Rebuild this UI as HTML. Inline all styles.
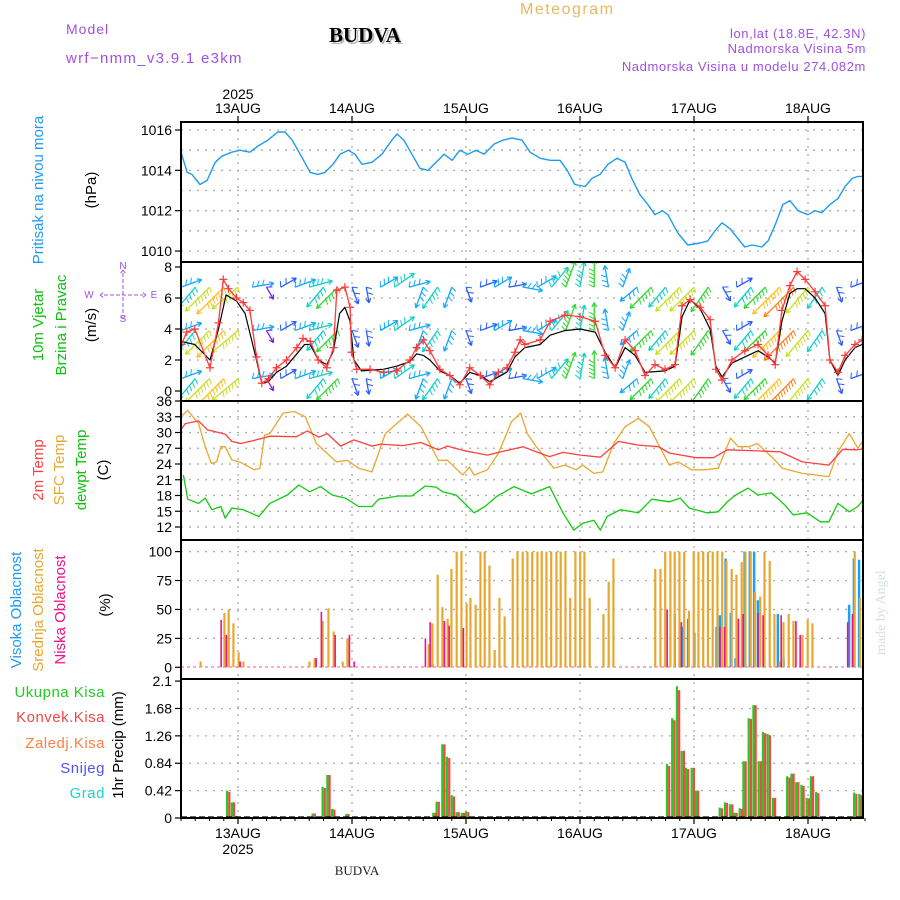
<!DOCTYPE html>
<html><head><meta charset="utf-8"><style>
html,body{margin:0;padding:0;background:#fff;}
svg{display:block;font-family:"Liberation Sans",sans-serif;}
</style></head><body>
<svg id="chart" width="900" height="900" viewBox="0 0 900 900" xmlns="http://www.w3.org/2000/svg">
<defs>
<clipPath id="cp1"><rect x="181" y="122" width="682" height="140"/></clipPath>
<clipPath id="cp2"><rect x="181" y="262" width="682" height="139"/></clipPath>
<clipPath id="cp3"><rect x="181" y="401" width="682" height="139"/></clipPath>
<clipPath id="cp4"><rect x="181" y="540" width="682" height="139"/></clipPath>
<clipPath id="cp5"><rect x="181" y="679" width="682" height="139"/></clipPath>
</defs>
<text x="520" y="14" font-size="16" fill="#e8b860" letter-spacing="1.5">Meteogram</text>
<text x="66" y="34" font-size="14" fill="#a050e0" letter-spacing="1">Model</text>
<text x="66" y="63" font-size="15" fill="#a050e0" letter-spacing="1.3">wrf−nmm_v3.9.1 e3km</text>
<text x="331" y="44" font-size="21" font-weight="bold" fill="#bbb" font-family="Liberation Serif,serif">BUDVA</text>
<text x="329" y="42" font-size="21" font-weight="bold" fill="#000" font-family="Liberation Serif,serif">BUDVA</text>
<g font-size="13" fill="#a050e0" text-anchor="end" letter-spacing="0.6">
<text x="866" y="38">lon,lat (18.8E, 42.3N)</text>
<text x="866" y="53">Nadmorska Visina 5m</text>
<text x="866" y="71">Nadmorska Visina u modelu 274.082m</text>
</g>
<g id="grid"></g>
<g id="series"></g>
<g id="frames"></g>
<g id="labels"></g>
<text x="357" y="875" font-size="13" font-family="Liberation Serif,serif" text-anchor="middle" fill="#222">BUDVA</text>
<text transform="translate(885,655) rotate(-90)" font-size="14" fill="#d8e0d8" font-family="Liberation Serif,serif">made by Angel</text>
</svg>
<script>
// ---------- DATA ----------
const dayLabels = ["13AUG","14AUG","15AUG","16AUG","17AUG","18AUG"];
const dayHours = [12,36,60,84,108,132];
const pressTicks = [1010,1012,1014,1016];
const windTicks = [0,2,4,6,8];
const tempTicks = [12,15,18,21,24,27,30,33,36];
const cloudTicks = [0,25,50,75,100];
const precipTicks = [0,0.42,0.84,1.26,1.68,2.1];

const pressHours = [0,1.3,2.3,4,5.5,7.2,8.6,10.7,12.4,14.5,16.2,18.3,20.4,21.9,23.4,25.1,27.2,28.8,30.3,32,33.5,35.2,36.6,38.1,40.2,42.3,44.4,45.5,46.9,48.6,50.3,52,53.7,55.4,57.1,58.7,60.4,62.1,63.8,65.9,67.8,69.7,71.8,73.5,75.6,77.7,79.8,81.3,82.9,85.1,86.5,88.2,89.9,91.8,93.5,94.9,96.6,98.3,99.8,101.3,102.5,104.6,106.7,109.3,110.9,112.4,113.9,115.6,117.3,118.7,120.2,122.3,123.6,125.1,126.7,128.2,129.9,132,133.5,134.9,136.6,138.3,139.8,141.3,142.5,143.4];
const pressVals = [1014.9,1013.9,1013.8,1013.3,1013.5,1014.4,1014.7,1014.9,1015.0,1014.9,1015.2,1015.5,1015.9,1015.9,1015.5,1014.8,1013.9,1013.8,1013.9,1014.3,1014.8,1015.0,1014.8,1014.3,1014.4,1014.8,1015.5,1015.8,1015.5,1014.8,1014.1,1014.0,1014.4,1014.8,1014.5,1015.0,1014.8,1015.0,1014.8,1015.3,1015.5,1015.6,1015.5,1014.9,1014.6,1014.5,1014.5,1014.0,1013.3,1013.2,1013.6,1013.8,1014.3,1014.6,1014.4,1013.6,1012.8,1012.3,1011.8,1012.0,1011.8,1010.9,1010.3,1010.4,1010.5,1011.0,1011.4,1011.1,1010.6,1010.2,1010.3,1010.2,1010.5,1011.3,1012.3,1012.5,1012.0,1011.8,1012.0,1011.9,1012.3,1012.6,1013.2,1013.6,1013.7,1013.7];

const gustHours = [0.1,1.2,2.9,6.1,7.9,8.9,10,11.7,13.1,14.5,15.9,17,18.4,20.1,22.2,24.4,25.7,27.2,28.9,30.7,32.1,32.8,34.5,35.6,35.9,37,39.8,42.6,45.4,48.2,49.6,51,52.4,54.5,56.6,58.7,60.8,63,65,66.8,68.6,70.3,71.4,72.4,75.6,77.7,80.8,84,87.2,89.3,91.4,93.5,95.6,97.7,99.8,101.9,104,105.5,107.2,109.3,111.4,112.6,113.9,116,118.7,121.5,123.6,125.1,126.5,128.2,129.7,131.4,133.5,135.6,136.6,138.3,139.8,141.9,143.4];
const gustVals = [3.0,3.8,4.0,1.5,4.4,7.2,6.6,6.0,5.7,5.2,2.2,0.5,0.8,1.5,2.0,2.8,3.4,3.2,2.0,1.5,2.8,6.5,6.7,5.4,2.5,1.4,1.4,1.2,1.3,2.0,2.8,3.3,2.6,1.4,1.0,0.4,1.5,1.0,0.4,1.2,1.5,2.5,3.3,3.0,3.3,4.5,4.9,4.8,4.5,2.3,1.5,3.3,2.6,1.0,1.7,1.4,1.7,5.5,5.9,5.4,4.6,1.4,0.7,2.0,2.6,3.0,2.3,1.7,5.2,6.8,7.7,7.2,6.4,5.5,2.0,1.2,2.3,3.0,3.3];
const meanHours = [0,2.9,6.1,7.9,9.5,11.7,13.5,15.9,17,18.4,20.1,22.2,24.4,26,27.2,28.9,30.7,32.1,33.4,34.5,35.6,36.4,38,42.6,45.4,48.2,49.6,51,52.4,54.5,56.6,58.7,60.8,63,65,68.6,70.3,72.4,75.6,77.7,80.8,84,87.2,89.3,91.4,93.5,95.6,97.7,101.9,104,105.5,107.2,109.3,111.4,112.6,113.9,116,118.7,121.5,123.6,125.1,126.5,128.2,129.7,131.4,133.5,135.6,136.6,138.3,139.8,141.9,143.4];
const meanVals = [3.2,3.0,2.0,4.0,6.2,5.8,5.0,2.0,0.5,0.6,1.2,1.6,2.4,3.0,3.0,2.0,1.7,2.6,5.0,5.4,4.5,2.0,1.3,1.4,1.6,1.9,2.4,2.3,2.0,1.3,1.0,0.5,1.2,1.0,0.6,1.2,2.2,2.8,3.0,3.6,3.9,4.0,3.8,2.5,1.5,2.8,2.3,1.2,1.3,1.6,4.8,5.9,5.3,4.0,1.6,0.9,1.8,2.2,2.6,2.2,1.8,4.5,6.3,6.6,6.6,6.0,5.0,2.0,1.0,2.0,2.8,3.0];

const windHours = [0,3,6,9,12,15,18,21,24,27,30,33,36,39,42,45,48,51,54,57,60,63,66,69,72,75,78,81,84,87,90,93,96,99,102,105,108,111,114,117,120,123,126,129,132,135,138,141,144];
const windSpeed = [3,4,6,7,6,3,1,2,3,3.5,4,5,2,1.5,2.5,3.5,3,3,4,3,1.5,2,2.5,2,2.5,3,4,4.5,4,4.5,3,2.5,3,5,4,6,6,5,1.5,2,4,5,7,8,6,4,1.5,2,3];
const windDir = [70,220,225,225,230,80,150,60,70,75,220,225,160,170,60,55,75,200,215,200,160,70,60,80,100,60,40,20,10,0,350,20,230,225,220,225,225,215,150,60,220,225,225,225,220,215,160,70,75];
const windRows = [6.7,3.9,0.8];

const t2Hours = [0,0.9,3.7,5.6,9.3,10.7,12.6,15,18.7,24.3,26.6,29,30.8,33.6,36.4,40.2,42.1,46.7,50.5,54.2,56.1,59.8,64.5,67.3,72,74.8,77.6,80.4,84.1,88.3,92.1,96.3,100.5,102.8,108.4,112.1,115,121.5,126.2,130.8,136.4,139.3,142.1,144.9];
const t2Vals = [30.6,31.7,32.2,30.5,29.7,28.3,27.9,28.4,29.3,29.2,30.3,29.1,29.8,27.4,28.6,27.4,27.8,27.5,28.1,26.7,27.4,26.5,25.7,26.3,27.3,26.3,25.4,26.2,25.7,25.3,28.3,27.6,27.3,26.1,25.2,25.2,26.7,26.5,26.3,24.4,23.8,26.8,26.7,27.0];
const sfcHours = [0,1.4,3.7,5.1,6.4,7.5,8.4,9.3,10.7,12.6,15.4,16.6,17.6,18.7,21.5,23.8,26.2,28.5,30.8,32.7,35,37.4,40.2,43,47.7,50.5,54.2,56.1,59.3,60.7,61.7,64.5,66.8,69.6,71.5,72.9,74.8,78.5,80.8,83.2,84.6,86.9,88.8,91.1,93.5,96.3,98.6,102.8,104.7,107.5,110.3,113.1,115.7,117.3,119.6,121.3,124.3,126.6,130.8,133.6,136.4,138.3,140.7,142.5,143.5,144.9];
const sfcVals = [33.0,34.2,31.7,27.3,24.1,24.4,27.3,27.3,24.8,24.3,22.9,23.2,29.5,29.8,33.7,34.0,33.0,27.9,26.0,24.4,24.7,23.2,22.5,29.8,33.5,31.1,24.7,24.7,21.9,23.4,21.9,22.9,26.0,32.1,33.7,29.8,27.3,23.2,23.8,22.9,23.8,22.2,22.5,27.9,31.1,32.7,31.1,23.8,24.4,22.9,22.9,23.2,28.9,27.3,27.3,27.9,25.4,23.2,22.2,21.9,21.6,26.3,29.8,27.0,28.3,27.0];
const dewHours = [0.5,1.4,3.7,5.1,6.5,8.4,9.3,10.7,13.1,16.4,18.7,22.4,24.8,27.1,29.4,31.8,34.6,37.4,40.2,41.6,45.8,48.6,51.4,53.7,55.1,57.9,61.7,64,66.4,70.1,73.8,77.6,80.4,82.7,84.6,86.9,88.3,89.7,92.5,96.3,99.1,102.8,105.1,107,110.7,113.1,115,116.8,119.4,121.5,124.3,127.1,128.9,131.8,134.6,136.4,138.3,140.7,142.5,144.9];
const dewVals = [21.9,17.3,16.5,17.5,15.3,15.9,13.7,15.6,15.3,14.0,16.5,18.1,20.0,18.7,19.7,18.1,17.5,15.9,15.9,17.3,17.9,17.9,19.8,19.6,18.7,18.1,14.7,15.9,17.8,19.7,18.3,19.7,14.7,11.4,12.7,13.3,11.4,14.0,15.3,14.7,17.3,16.8,17.5,15.6,14.7,14.9,16.8,18.1,19.4,18.1,18.5,16.2,14.3,14.7,13.0,13.0,16.5,14.9,15.9,18.7];

const midHours = [3.8,8.8,9.7,10.7,11.8,12.8,26.7,27.8,29.5,30.7,31.8,33.7,34.7,51.8,52.6,53.7,54.7,55.8,56.6,57.7,58.7,59.8,60.6,61.7,62.7,63.6,64.6,65.7,66.7,67.8,69.5,70.5,71.6,72.6,73.6,74.7,75.6,76.6,77.6,78.7,79.6,80.6,81.6,82.7,83.7,84.6,85.7,88.6,89.7,90.7,99.5,100.6,101.6,102.7,103.6,104.6,105.6,106.6,107.6,108.6,109.6,110.6,111.6,112.6,113.6,114.5,115.6,116.6,117.7,118.5,119.6,120.5,121.6,122.5,123.6,124.6,125.7,126.5,127.6,128.6,130.5,131.6,132.6,141.5,142.6,143.5];
const midVals = [5,47,50,38,13,5,5,8,40,51,31,5,25,20,38,80,52,42,85,100,100,55,60,54,100,100,88,15,60,44,94,100,100,100,100,100,100,100,100,100,100,100,60,100,100,100,60,46,74,94,85,85,100,100,100,100,100,49,100,100,100,100,100,100,100,92,85,80,91,100,100,65,61,100,92,46,5,39,46,40,28,41,38,100,60,60];
const highHours = [52.8,103.8,105.3,106.6,107.9,112.6,113.3,114.5,115.6,116.6,118.5,119.6,120.5,121.3,125.5,126.7,140.5,141.5,142.6,143.5];
const highVals = [3,46,35,42,30,35,45,94,47,8,100,100,100,58,46,7,54,94,93,46];
const lowHours = [8.6,9.7,12.6,28.6,29.7,32.6,35.6,36.6,51.6,52.6,55.6,56.6,59.6,102.5,105.5,113.6,114.6,117.5,118.5,121.6,122.7,126.5,129.6,130.5,140.5,141.5];
const lowVals = [41,28,5,8,48,28,28,5,25,39,40,36,34,50,39,35,35,42,46,47,45,45,40,28,39,46];

const rainHours = [9.9,10.9,11.9,27.9,30,31,32,35,53.3,54,55.2,56.2,57.2,58.2,59.3,60.2,102.5,103.6,104.6,105.6,106.5,107.7,108.6,109.6,113.6,114.7,115.8,116.7,117.8,118.6,119.7,120.7,121.8,122.7,123.7,124.8,127.8,128.7,129.7,130.8,131.9,132.8,133.9,141.9,143,143.9];
const rainTotal = [0.42,0.24,0.03,0.07,0.48,0.66,0.14,0.06,0.08,0.25,1.13,0.94,0.35,0.09,0.08,0.10,0.83,1.53,2.02,1.03,0.77,0.77,0.42,0.02,0.16,0.24,0.21,0.08,0.15,0.87,1.53,1.73,0.87,1.32,1.29,0.31,0.64,0.68,0.55,0.51,0.31,0.64,0.40,0.39,0.37,0.06];
const rainConv = [0.40,0.24,0.02,0.07,0.46,0.66,0.13,0.06,0.08,0.25,1.13,0.92,0.33,0.09,0.08,0.09,0.80,1.50,1.96,1.03,0.75,0.77,0.42,0.02,0.15,0.23,0.21,0.08,0.14,0.87,1.52,1.73,0.87,1.30,1.27,0.31,0.62,0.68,0.55,0.49,0.30,0.64,0.38,0.37,0.35,0.57];

// ---------- SCALES ----------
const X0 = 181, X1 = 863;
const xh = h => X0 + 4.75 * h;
const yP = p => 130 + (1016 - p) * 20.17;
const yW = v => 391 - v * 15.5;
const yT = t => 401 + (36 - t) * 5.25;
const yC = c => 667.3 - c * 1.157;
const yR = r => 818 - r * 65.2;
const panels = [[122,262],[262,401],[401,540],[540,679],[679,818]];

const NS = "http://www.w3.org/2000/svg";
function mk(tag, attrs, parent){
  const e = document.createElementNS(NS, tag);
  for (const k in attrs) e.setAttribute(k, attrs[k]);
  parent.appendChild(e);
  return e;
}
const grid = document.getElementById('grid');
const series = document.getElementById('series');
const frames = document.getElementById('frames');
const labels = document.getElementById('labels');

// grid
function hgrid(vals, f){
  vals.forEach(v => {
    const l = mk('line', {x1:X0, x2:X1, y1:f(v), y2:f(v), stroke:'#aaa', 'stroke-width':1.3, 'stroke-dasharray':'2,6'}, grid);
    
    
  });
}
hgrid([1010,1011,1012,1013,1014,1015,1016], yP);
hgrid([2,4,6], yW);
hgrid([12,15,18,21,24,27,30,33], yT);
hgrid([25,50,75,100], yC);
hgrid([0.42,0.84,1.26,1.68], yR);
dayHours.forEach(h => {
  const l = mk('line', {x1:xh(h), x2:xh(h), y1:122, y2:818, stroke:'#aaa', 'stroke-width':1.3, 'stroke-dasharray':'2,6'}, grid);
  
  
});

// lines
function line(hs, vs, fy, color, w, clip, name){
  const d = hs.map((h,i) => (i ? 'L' : 'M') + xh(h).toFixed(1) + ',' + fy(vs[i]).toFixed(1)).join('');
  const p = mk('path', {d:d, fill:'none', stroke:color, 'stroke-width':w, 'clip-path':'url(#'+clip+')', 'stroke-linejoin':'round'}, series);
  
  
  return p;
}
line(pressHours, pressVals, yP, '#1e9bf0', 1.4, 'cp1', 'pressure-line');

// wind barbs
const wg = mk('g', {'clip-path':'url(#cp2)'}, series);


function windColor(s){
  const c = ['#8a10e8','#7a20f0','#2a5cff','#10a8ff','#10d0c8','#30d830','#c8e020','#ffc020','#ff8020','#ff2a2a'];
  return c[Math.max(0, Math.min(9, Math.round(s)))];
}
windRows.forEach(rv => {
  windHours.forEach((h,i) => {
    const s = windSpeed[i], a = windDir[i] * Math.PI / 180;
    const L = 10 + s * 4;
    const x0 = xh(h), y0 = yW(rv);
    const dx = Math.sin(a), dy = -Math.cos(a);
    const x1 = x0 + dx * L, y1 = y0 + dy * L;
    const col = windColor(s);
    const ar = mk('line', {x1:x0, y1:y0, x2:x1, y2:y1, stroke:col, 'stroke-width':1.3}, wg);
    
    
    // head
    [0.5, -0.5].forEach(o => {
      const b = a + Math.PI + o;
      mk('line', {x1:x1, y1:y1, x2:x1 + Math.sin(b)*5, y2:y1 - Math.cos(b)*5, stroke:col, 'stroke-width':1.2}, wg);
    });
    // feathers (count by speed)
    const nf = Math.round(s);
    for (let k = 0; k < nf; k++){
      const fx = x0 + dx * (L * k / Math.max(nf,1) * 0.7), fy = y0 + dy * (L * k / Math.max(nf,1) * 0.7);
      const b = a - 1.1;
      mk('line', {x1:fx, y1:fy, x2:fx + Math.sin(b)*6, y2:fy - Math.cos(b)*6, stroke:col, 'stroke-width':1}, wg);
    }
  });
});
line(meanHours, meanVals, yW, '#000', 1.2, 'cp2', 'wind-speed-line');
line(gustHours, gustVals, yW, '#ff3a3a', 1.3, 'cp2', 'wind-gust-line');
gustHours.forEach((h,i) => {
  const x = xh(h), y = yW(gustVals[i]);
  const c = mk('path', {d:`M${x-4},${y}H${x+4}M${x},${y-4}V${y+4}`, stroke:'#ff3a3a', 'stroke-width':1.2, 'clip-path':'url(#cp2)'}, series);
  
  
});

// temps
line(sfcHours, sfcVals, yT, '#e8a830', 1.3, 'cp3', 'sfc-temp-line');
line(t2Hours, t2Vals, yT, '#ff4040', 1.3, 'cp3', 'temp-2m-line');
line(dewHours, dewVals, yT, '#10cc10', 1.3, 'cp3', 'dewpoint-line');

// cloud bars
function bars(hs, vs, fy, base, color, off, w, clip, name){
  hs.forEach((h,i) => {
    const y = fy(vs[i]);
    const r = mk('rect', {x:xh(h)+off, y:y, width:w, height:Math.max(0, base - y), fill:color, 'clip-path':'url(#'+clip+')'}, series);
    
    
  });
}
mk('line', {x1:X0, x2:X1, y1:667, y2:667, stroke:'#ff70c0', 'stroke-width':1.2, 'stroke-dasharray':'3,3'}, series);
bars(highHours, highVals, yC, 667.3, '#1aa0f8', -0.5, 2.5, 'cp4', 'high-cloud-bar');
bars(midHours, midVals, yC, 667.3, '#e8a830', 0.5, 2.2, 'cp4', 'mid-cloud-bar');
bars(lowHours, lowVals, yC, 667.3, '#f0108a', -1.5, 1.6, 'cp4', 'low-cloud-bar');

// precip bars
bars(rainHours, rainTotal, yR, 818, '#20cc20', -2, 2.2, 'cp5', 'total-precip-bar');
bars(rainHours, rainConv, yR, 818, '#f04848', 0.2, 2.2, 'cp5', 'convective-precip-bar');
mk('line', {x1:X0, x2:X1, y1:817, y2:817, stroke:'#000', 'stroke-width':1.2, 'stroke-dasharray':'6,3'}, series);

// frames and ticks
panels.forEach((p,i) => {
  const r = mk('rect', {x:X0, y:p[0], width:X1-X0, height:p[1]-p[0], fill:'none', stroke:'#000', 'stroke-width':2}, frames);
  
  
});
function yticks(vals, f, fmt){
  vals.forEach(v => {
    mk('line', {x1:X0-6, x2:X0, y1:f(v), y2:f(v), stroke:'#000', 'stroke-width':1.2}, frames);
    const t = mk('text', {x:X0-9, y:f(v)+5, 'font-size':14, 'text-anchor':'end', fill:'#000'}, labels);
    t.textContent = fmt ? fmt(v) : v;
    
    
  });
}
yticks(pressTicks, yP);
yticks(windTicks, yW);
yticks(tempTicks, yT);
yticks(cloudTicks, yC);
yticks(precipTicks, yR);
dayHours.forEach((h,i) => {
  mk('line', {x1:xh(h), x2:xh(h), y1:116, y2:122, stroke:'#000', 'stroke-width':1.2}, frames);
  mk('line', {x1:xh(h), x2:xh(h), y1:818, y2:824, stroke:'#000', 'stroke-width':1.2}, frames);
  const t = mk('text', {x:xh(h), y:113, 'font-size':14, 'text-anchor':'middle', fill:'#000'}, labels);
  t.textContent = dayLabels[i];
  
  
  const b = mk('text', {x:xh(h), y:838, 'font-size':14, 'text-anchor':'middle', fill:'#000'}, labels);
  b.textContent = dayLabels[i];
  
  
});
for (let h = 0; h <= 144; h += 3){
  mk('line', {x1:xh(h), x2:xh(h), y1:818, y2:821, stroke:'#000', 'stroke-width':1}, frames);
}
const y1 = mk('text', {x:xh(12), y:99, 'font-size':14, 'text-anchor':'middle'}, labels);
y1.textContent = '2025';


const y2 = mk('text', {x:xh(12), y:854, 'font-size':14, 'text-anchor':'middle'}, labels);
y2.textContent = '2025';



// axis titles (rotated)
function vtext(x, y, txt, color, name, size){
  const t = mk('text', {transform:`translate(${x},${y}) rotate(-90)`, 'font-size':size||15, 'text-anchor':'middle', fill:color}, labels);
  t.textContent = txt;
  
  
}
vtext(43, 190, 'Pritisak na nivou mora', '#1e9bf0', 'pressure-axis-title');
vtext(96, 190, '(hPa)', '#000', 'pressure-unit');
vtext(43, 325, '10m Vjetar', '#10c010', 'wind-axis-title');
vtext(66, 325, 'Brzina i Pravac', '#10c010', 'wind-axis-subtitle');
vtext(96, 325, '(m/s)', '#000', 'wind-unit');
vtext(43, 470, '2m Temp', '#ff4040', 'temp2m-axis-title');
vtext(64, 470, 'SFC Temp', '#e8a830', 'sfc-temp-axis-title');
vtext(86, 470, 'dewpt Temp', '#10c010', 'dewpoint-axis-title');
vtext(108, 470, '(C)', '#000', 'temp-unit');
vtext(21, 610, 'Visoka Oblacnost', '#1e9bf0', 'high-cloud-axis-title');
vtext(43, 610, 'Srednja Oblacnost', '#e8a830', 'mid-cloud-axis-title');
vtext(65, 610, 'Niska Oblacnost', '#f0108a', 'low-cloud-axis-title');
vtext(110, 605, '(%)', '#000', 'cloud-unit');
vtext(123, 745, '1hr Precip (mm)', '#000', 'precip-axis-title');

// compass
const cg = mk('g', {fill:'#a050e0', 'font-size':10, 'text-anchor':'middle'}, labels);


[['N',123,269],['S',123,322],['W',89,298],['E',154,298]].forEach(a => {
  const t = mk('text', {x:a[1], y:a[2]}, cg); t.textContent = a[0];
});
mk('path', {d:'M123,273V316M104,295H143M100,295l4,-3M100,295l4,3M146,295l-4,-3M146,295l-4,3M123,270l-3,4M123,270l3,4M123,319l-3,-4M123,319l3,-4', stroke:'#a050e0', 'stroke-width':1, fill:'none', 'stroke-dasharray':'4,2'}, cg);

// precip legend
[['Ukupna  Kisa','#20cc20',697],['Konvek.Kisa','#f04848',722],['Zaledj.Kisa','#ff8040',748],['Snijeg','#5050ff',773],['Grad','#20d0d0',798]].forEach(a => {
  const t = mk('text', {x:105, y:a[2], 'font-size':15, 'text-anchor':'end', fill:a[1], 'letter-spacing':'0.5'}, labels);
  t.textContent = a[0];
  
  
});
</script>
</body></html>
